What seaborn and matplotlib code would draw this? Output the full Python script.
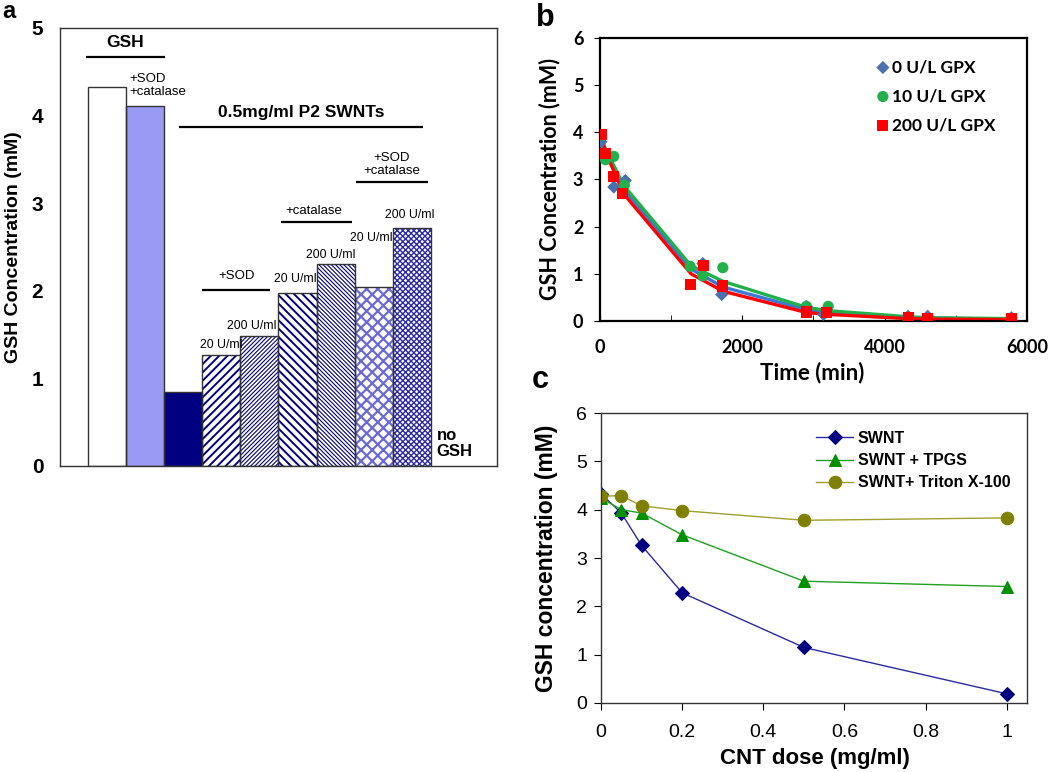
import matplotlib
matplotlib.use('Agg')
import matplotlib.pyplot as plt
import seaborn as sns
import pandas as pd

# panel a: GSH left after treatments (mM)
bar_names = ['GSH', 'GSH+SOD+catalase', 'SWNT', 'SWNT+SOD 20', 'SWNT+SOD 200',
             'SWNT+catalase 20', 'SWNT+catalase 200', 'SWNT+SOD+catalase 20',
             'SWNT+SOD+catalase 200']
bar_values = [4.33, 4.11, 0.84, 1.27, 1.48, 1.98, 2.30, 2.04, 2.72]

# panel b: GSH vs time for three GPX levels
t_0 = [15, 194, 357, 1445, 1710, 2900, 3140, 4330, 4605, 5780]
gsh_0 = [3.80, 2.84, 2.98, 1.22, 0.56, 0.31, 0.14, 0.10, 0.10, 0.07]
t_10 = [15, 77, 194, 342, 1266, 1445, 1726, 2900, 3207, 4330, 4605, 5780]
gsh_10 = [3.94, 3.42, 3.49, 2.88, 1.16, 0.96, 1.13, 0.31, 0.31, 0.01, 0.05, 0.05]
t_200 = [15, 77, 194, 322, 1277, 1455, 1726, 2900, 3181, 4330, 4605, 5780]
gsh_200 = [3.96, 3.55, 3.07, 2.70, 0.78, 1.17, 0.74, 0.19, 0.18, 0.08, 0.05, 0.05]
# fitted curves
fit_t = [0, 80, 330, 1280, 1730, 2900, 3200, 4330, 4600, 5800]
fit_0 = [3.88, 3.60, 2.80, 1.10, 0.72, 0.24, 0.18, 0.07, 0.06, 0.04]
fit_10 = [3.93, 3.65, 2.88, 1.17, 0.84, 0.29, 0.22, 0.09, 0.07, 0.05]
fit_200 = [3.97, 3.58, 2.70, 1.00, 0.63, 0.18, 0.14, 0.05, 0.04, 0.03]
gpx_labels = ['0 U/L GPX', '10 U/L GPX', '200 U/L GPX']

# panel c: GSH vs CNT dose
dose = [0, 0.05, 0.1, 0.2, 0.5, 1.0]
swnt = [4.33, 3.93, 3.26, 2.28, 1.15, 0.19]
swnt_tpgs = [4.24, 4.00, 3.93, 3.48, 2.52, 2.41]
swnt_triton = [4.28, 4.29, 4.08, 3.98, 3.78, 3.83]
dose_labels = ['SWNT', 'SWNT + TPGS', 'SWNT+ Triton X-100']

ARIAL = 'Liberation Sans'
CALIB = 'Lato'

fig = plt.figure(figsize=(10.5, 7.72), dpi=100)
ax_a = fig.add_axes([0.0571, 0.3964, 0.4162, 0.5674])
ax_b = fig.add_axes([0.5714, 0.5842, 0.4067, 0.3666])
ax_c = fig.add_axes([0.5724, 0.0894, 0.4057, 0.3756])

# ---------------- panel a
face = ['white', '#9a9af5', '#000080', 'white', 'white', 'white', 'white', 'white', 'white']
hatch = ['', '', '', '////', '////////', '\\\\\\\\', '\\\\\\\\\\\\\\\\', 'xxx', 'xxxxxx']
hatch_col = ['none', 'none', 'none', '#000080', '#000080', '#000080', '#000080', '#6a6ad6', '#2a2aa8']
hatch_lw = [1, 1, 1, 1.4, 0.8, 1.4, 0.8, 1.6, 1.0]

df_a = pd.DataFrame({'cond': bar_names, 'gsh': bar_values})
sns.barplot(data=df_a, x='cond', y='gsh', order=bar_names, width=1.0, color='white',
            saturation=1, linewidth=0, ax=ax_a)
for p, fc, h, hc, hl in zip(ax_a.patches, face, hatch, hatch_col, hatch_lw):
    p.set_facecolor(fc)
    p.set_edgecolor(hc)
    p.set_hatch(h)
    p.set_linewidth(0)
    if hasattr(p, 'set_hatch_linewidth'):
        p.set_hatch_linewidth(hl)
sns.barplot(data=df_a, x='cond', y='gsh', order=bar_names, width=1.0, fill=False,
            color='#333333', linewidth=1.0, ax=ax_a)

ax_a.set_xlim(-1.24, 10.24)
ax_a.set_ylim(0, 5)
ax_a.set_xticks([])
ax_a.set_xlabel('')
ax_a.set_yticks([0, 1, 2, 3, 4, 5])
ax_a.tick_params(axis='y', length=0, pad=12, labelsize=15)
plt.setp(ax_a.get_yticklabels(), family=ARIAL, weight='bold')
ax_a.set_ylabel('GSH Concentration (mM)', family=ARIAL, weight='bold', fontsize=14)
ax_a.yaxis.set_label_coords(-0.087, 0.5)
for s in ax_a.spines.values():
    s.set_color('#333333')
    s.set_linewidth(1.0)

def brk(x0, x1, y):
    ax_a.plot([x0, x1], [y, y], color='black', lw=1.6, solid_capstyle='butt')

brk(-0.55, 1.53, 4.67)
ax_a.text(0.47, 4.83, 'GSH', ha='center', va='center', family=ARIAL, weight='bold', fontsize=12.5)
ax_a.text(0.58, 4.345, '+SOD\n+catalase', ha='left', va='center', family=ARIAL,
          fontsize=9.5, linespacing=1.15)
brk(1.88, 8.31, 3.87)
ax_a.text(5.1, 4.04, '0.5mg/ml P2 SWNTs', ha='center', va='center', family=ARIAL,
          weight='bold', fontsize=12.5)
brk(6.54, 8.42, 3.24)
ax_a.text(7.48, 3.44, '+SOD\n+catalase', ha='center', va='center', family=ARIAL,
          fontsize=9.5, linespacing=1.15)
brk(4.56, 6.43, 2.78)
ax_a.text(5.43, 2.91, '+catalase', ha='center', va='center', family=ARIAL, fontsize=9.5)
brk(2.5, 4.29, 2.01)
ax_a.text(3.4, 2.17, '+SOD', ha='center', va='center', family=ARIAL, fontsize=9.5)
for x, y, t in [(3.0, 1.38, '20 U/ml'), (3.8, 1.60, '200 U/ml'), (4.95, 2.14, '20 U/ml'),
                (5.88, 2.41, '200 U/ml'), (6.93, 2.60, '20 U/ml'), (7.95, 2.87, '200 U/ml')]:
    ax_a.text(x, y, t, ha='center', va='center', family=ARIAL, fontsize=8.8)
ax_a.text(8.65, 0.255, 'no\nGSH', ha='left', va='center', family=ARIAL, weight='bold',
          fontsize=12, linespacing=1.1)

# ---------------- panel b
line_cols = ['#3a78d6', '#22b04c', '#ff0000']
pt_cols = ['#4a70b0', '#22b04c', '#ff0000']
markers_b = ['D', 'o', 's']
sizes_b = [45, 65, 65]
for ft, col in zip([fit_0, fit_10, fit_200], line_cols):
    sns.lineplot(x=fit_t, y=ft, color=col, lw=2.4, ax=ax_b, legend=False, zorder=2)
for t, g, col, m, sz, lab in zip([t_0, t_10, t_200], [gsh_0, gsh_10, gsh_200], pt_cols,
                                 markers_b, sizes_b, gpx_labels):
    sns.scatterplot(x=t, y=g, color=col, marker=m, s=sz, edgecolor='none', label=lab,
                    ax=ax_b, zorder=3)
ax_b.set_xlim(0, 6000)
ax_b.set_ylim(0, 6)
ax_b.set_xticks([0, 2000, 4000, 6000])
ax_b.set_xticks([1000, 3000, 5000], minor=True)
ax_b.set_yticks(range(7))
ax_b.tick_params(axis='x', which='both', direction='in', length=4, pad=13, labelsize=13)
ax_b.tick_params(axis='y', direction='out', length=4, pad=8, labelsize=13)
plt.setp(ax_b.get_xticklabels() + ax_b.get_yticklabels(), family=CALIB, weight='bold')
ax_b.set_xlabel('Time (min)', family=CALIB, weight='bold', fontsize=16)
ax_b.set_ylabel('GSH Concentration (mM)', family=CALIB, weight='bold', fontsize=15.5)
ax_b.xaxis.set_label_coords(0.498, -0.145)
ax_b.yaxis.set_label_coords(-0.093, 0.5)
for s in ax_b.spines.values():
    s.set_color('black')
    s.set_linewidth(1.6)
ax_b.legend(loc='upper left', bbox_to_anchor=(0.63, 0.95), frameon=False, handlelength=0.8,
            handletextpad=0.1, labelspacing=0.75, borderaxespad=0,
            prop=dict(family=CALIB, weight='bold', size=12.5))

# ---------------- panel c
cols_c = ['#000080', '#009000', '#808000']
line_c = ['#2a2aa0', '#20a020', '#a0a030']
markers_c = ['D', '^', 'o']
msz_c = [7, 9, 9]
for y, lc, mc, m, ms, lab in zip([swnt, swnt_tpgs, swnt_triton], line_c, cols_c, markers_c,
                                 msz_c, dose_labels):
    sns.lineplot(x=dose, y=y, color=lc, marker=m, markersize=ms, markerfacecolor=mc,
                 markeredgecolor=mc, lw=1.0, label=lab, ax=ax_c)
ax_c.set_xlim(0, 1.05)
ax_c.set_ylim(0, 6)
ax_c.set_xticks([0, 0.2, 0.4, 0.6, 0.8, 1.0])
ax_c.set_xticklabels(['0', '0.2', '0.4', '0.6', '0.8', '1'])
ax_c.set_yticks(range(7))
ax_c.tick_params(axis='x', direction='out', length=5, pad=10, labelsize=14)
ax_c.tick_params(axis='y', direction='out', length=5, pad=5, labelsize=14)
plt.setp(ax_c.get_xticklabels() + ax_c.get_yticklabels(), family=ARIAL)
ax_c.set_xlabel('CNT dose (mg/ml)', family=ARIAL, weight='bold', fontsize=16)
ax_c.set_ylabel('GSH concentration (mM)', family=ARIAL, weight='bold', fontsize=16.5)
ax_c.xaxis.set_label_coords(0.501, -0.155)
ax_c.yaxis.set_label_coords(-0.101, 0.5)
for s in ax_c.spines.values():
    s.set_color('#333333')
    s.set_linewidth(1.0)
ax_c.legend(loc='upper left', bbox_to_anchor=(0.49, 0.96), frameon=False, handlelength=2.3,
            handletextpad=0.3, labelspacing=0.45, borderaxespad=0,
            prop=dict(family=ARIAL, weight='bold', size=11.5))

# panel letters
fig.text(0.002, 1 - 12 / 772, 'a', ha='left', va='center', family=ARIAL, weight='bold', fontsize=17)
fig.text(545 / 1050, 1 - 18 / 772, 'b', ha='center', va='center', family=ARIAL, weight='bold', fontsize=22)
fig.text(540 / 1050, 1 - 380 / 772, 'c', ha='center', va='center', family=ARIAL, weight='bold', fontsize=22)

fig.savefig('out.png', dpi=100)
